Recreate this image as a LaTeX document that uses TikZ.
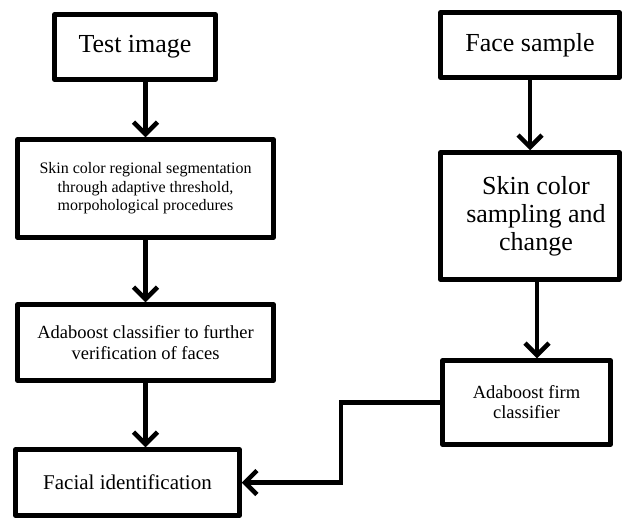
\documentclass[tikz,border=0pt]{standalone}
\usepackage{fontspec}
\setmainfont{Liberation Serif}
\usetikzlibrary{arrows.meta}

\begin{document}
\begin{tikzpicture}[x=1pt,y=-1pt,
  box/.style={draw,line width=4.5pt,line join=round,align=center,inner sep=2pt},
  flow/.style={line width=4.5pt,-{Straight Barb[length=12pt,width=24pt]}}]
\useasboundingbox (0,0) rectangle (624,520);
%left column
\node[box,minimum width=161pt,minimum height=65pt,font=\fontsize{26}{28}\selectfont] (test) at (135,47) {Test image};
\node[box,minimum width=256pt,minimum height=98pt,font=\fontsize{16}{18.5}\selectfont] (seg) at (145.5,188.5) {Skin color regional segmentation\\through adaptive threshold,\\morpohological procedures};
\node[box,minimum width=256pt,minimum height=76pt,font=\fontsize{18.5}{21}\selectfont] (verify) at (145.5,342.5) {Adaboost classifier to further\\verification of faces};
\node[box,minimum width=224pt,minimum height=66pt,font=\fontsize{21}{23}\selectfont] (facial) at (127.5,482.5) {Facial identification};
%right column
\node[box,minimum width=179pt,minimum height=65pt,font=\fontsize{26}{28}\selectfont] (face) at (530,45) {Face sample};
\node[box,minimum width=179pt,minimum height=127pt,font=\fontsize{26}{28}\selectfont] (skin) at (530,216) {\hspace*{12pt}Skin color\\\hspace*{12pt}sampling and\\\hspace*{12pt}change};
\node[box,minimum width=168pt,minimum height=84pt,font=\fontsize{18.5}{20}\selectfont] (firm) at (526.5,402.5) {Adaboost firm\\classifier};
\coordinate (bend) at (341,440);
%arrows
\draw[flow] (test.south -| seg.north) -- (seg.north);
\draw[flow] (seg.south) -- (verify.north);
\draw[flow] (verify.south) -- (verify.south |- facial.north);
\draw[flow] (face.south) -- (skin.north);
\draw[flow] ([xshift=7pt]skin.south) -- ([xshift=7pt]skin.south |- firm.north);
\draw[flow] (firm.west) -- (firm.west -| bend) |- (facial.east);
\end{tikzpicture}
\end{document}
